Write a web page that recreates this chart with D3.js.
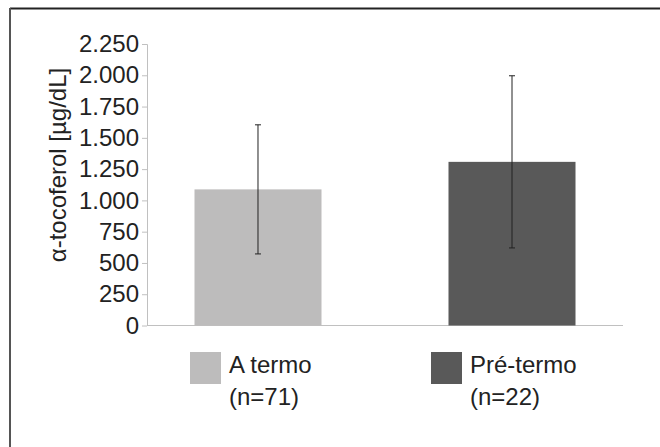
<!DOCTYPE html>
<html>
<head>
<meta charset="utf-8">
<script src="https://cdn.jsdelivr.net/npm/d3@7"></script>
<style>
  body { margin: 0; background: #fff; }
  text { font-family: "Liberation Sans", Arial, sans-serif; fill: #222; }
</style>
</head>
<body>
<script>
var groups = ["A termo", "Pré-termo"];
var groupN = ["(n=71)", "(n=22)"];
var means = [1088, 1308];
var sds = [516, 688];
var colors = ["#bdbcbc", "#595959"];
var ticks = [0, 250, 500, 750, 1000, 1250, 1500, 1750, 2000, 2250];

function drawChart()
{
    var width = 660;
    var height = 447;

    var svg = d3.select("body").append("svg")
            .attr("width", width)
            .attr("height", height);

    // frame (only top and left edges show)
    svg.append("line").attr("x1", 10).attr("x2", width).attr("y1", 8.5).attr("y2", 8.5)
       .attr("stroke", "#222").attr("stroke-width", 2);
    svg.append("line").attr("x1", 10).attr("x2", 10).attr("y1", 8).attr("y2", height)
       .attr("stroke", "#555").attr("stroke-width", 2);

    var y = d3.scaleLinear().domain([0, 2250]).range([325.5, 44]);
    var x = d3.scaleBand().domain(groups).range([147, 623]).paddingInner(0.5).paddingOuter(0.187);

    var yAxis = d3.axisLeft(y)
        .tickValues(ticks)
        .tickSize(5)
        .tickPadding(3)
        .tickFormat(function (d) { return d3.format(",")(d).replace(/,/g, "."); });

    var g = svg.append("g").attr("transform", "translate(147,0)").call(yAxis);
    g.select(".domain").attr("stroke", "#c0c0c0").attr("d", "M-5,44.5H0.5V325.5");
    g.selectAll(".tick line").attr("stroke", "#c0c0c0");
    g.selectAll(".tick text").attr("font-size", 24).attr("fill", "#222");

    svg.append("line").attr("x1", 147).attr("x2", 623).attr("y1", 325.5).attr("y2", 325.5)
       .attr("stroke", "#c0c0c0").attr("stroke-width", 1);

    svg.append("text")
       .attr("transform", "translate(66,165) rotate(-90)")
       .attr("text-anchor", "middle")
       .attr("font-size", 24)
       .text("α-tocoferol [µg/dL]");

    svg.selectAll("rect.bar")
       .data(means)
       .enter()
       .append("rect")
       .attr("class", "bar")
       .attr("x", function (d, i) { return x(groups[i]); })
       .attr("width", x.bandwidth())
       .attr("y", function (d) { return y(d); })
       .attr("height", function (d) { return y(0) - y(d); })
       .attr("fill", function (d, i) { return colors[i]; });

    var err = svg.selectAll("g.err")
       .data(means)
       .enter()
       .append("g")
       .attr("class", "err")
       .attr("stroke", "#222")
       .attr("stroke-width", 1);

    err.append("line")
       .attr("x1", function (d, i) { return x(groups[i]) + x.bandwidth() / 2; })
       .attr("x2", function (d, i) { return x(groups[i]) + x.bandwidth() / 2; })
       .attr("y1", function (d, i) { return y(d + sds[i]); })
       .attr("y2", function (d, i) { return y(d - sds[i]); });
    [1, -1].forEach(function (s)
    {
        err.append("line")
           .attr("x1", function (d, i) { return x(groups[i]) + x.bandwidth() / 2 - 3; })
           .attr("x2", function (d, i) { return x(groups[i]) + x.bandwidth() / 2 + 3; })
           .attr("y1", function (d, i) { return y(d + s * sds[i]); })
           .attr("y2", function (d, i) { return y(d + s * sds[i]); });
    });

    // legend
    var legX = [190, 431];
    var leg = svg.selectAll("g.leg")
       .data(groups)
       .enter()
       .append("g")
       .attr("class", "leg")
       .attr("transform", function (d, i) { return "translate(" + legX[i] + ",352)"; });
    leg.append("rect").attr("width", 31).attr("height", 32)
       .attr("fill", function (d, i) { return colors[i]; });
    leg.append("text").attr("x", 39).attr("y", 21).attr("font-size", 24).text(function (d) { return d; });
    leg.append("text").attr("x", 39).attr("y", 53).attr("font-size", 24).text(function (d, i) { return groupN[i]; });
}
window.onload = drawChart;
</script>
</body>
</html>
